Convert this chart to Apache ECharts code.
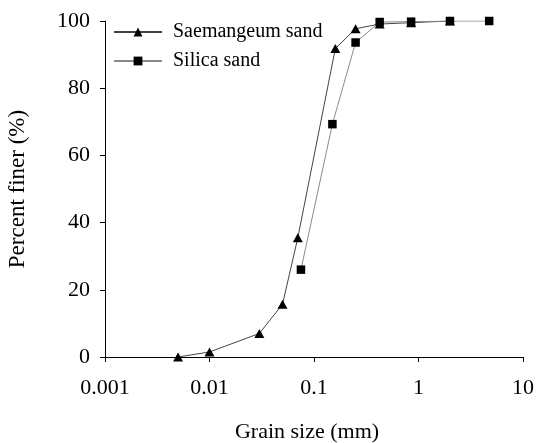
<!DOCTYPE html>
<html>
<head>
<meta charset="utf-8">
<script src="https://cdn.jsdelivr.net/npm/echarts@6/dist/echarts.min.js"></script>
<style>
  html, body { margin: 0; padding: 0; background: #fff; }
  #chart { width: 536px; height: 443px; }
</style>
</head>
<body>
<div id="chart"></div>
<script>
// Grain size distribution curves (grain size in mm, percent finer in %)
const saemangeumSize = [0.005, 0.01, 0.03, 0.05, 0.07, 0.16, 0.25, 0.425, 0.85, 2];
const saemangeumFiner = [0, 1.5, 7, 15.7, 35.5, 91.8, 97.7, 99.1, 99.5, 100];
const silicaSize = [0.075, 0.15, 0.25, 0.425, 0.85, 2, 4.75];
const silicaFiner = [26, 69.3, 93.6, 99.7, 99.8, 100, 100];
const xTicks = [0.001, 0.01, 0.1, 1, 10];
const yTicks = [0, 20, 40, 60, 80, 100];

const pairs = (xs, ys) => xs.map((x, i) => [x, ys[i]]);
const font = 'Liberation Serif, Times New Roman, serif';

const chart = echarts.init(document.getElementById('chart'), null, { renderer: 'canvas' });
chart.setOption({
  animation: false,
  backgroundColor: '#fff',
  textStyle: { fontFamily: font, color: '#000' },
  grid: { left: 105, right: 13, top: 21, bottom: 86, containLabel: false, outerBoundsMode: 'none' },
  legend: {
    left: 108, top: 17, orient: 'vertical',
    itemWidth: 48, itemHeight: 11, itemGap: 9,
    textStyle: { fontFamily: font, fontSize: 20, color: '#000', padding: [0, 0, 0, 6] },
    data: ['Saemangeum sand', 'Silica sand']
  },
  xAxis: {
    type: 'log', logBase: 10,
    min: xTicks[0], max: xTicks[xTicks.length - 1],
    name: 'Grain size (mm)', nameLocation: 'middle', nameGap: 64,
    nameTextStyle: { fontFamily: font, fontSize: 22, color: '#000', padding: [0, 14, 0, 0] },
    axisLine: { lineStyle: { color: '#000', width: 1 } },
    axisTick: { inside: false, length: 5, lineStyle: { color: '#000' } },
    minorTick: { show: false },
    splitLine: { show: false },
    axisLabel: {
      fontFamily: font, fontSize: 22, color: '#000', margin: 20,
      formatter: v => {
        const t = xTicks.find(k => Math.abs(Math.log10(k) - Math.log10(v)) < 1e-6);
        return t === undefined ? '' : String(t);
      }
    }
  },
  yAxis: {
    type: 'value', min: 0, max: 100, interval: 20,
    name: 'Percent finer (%)', nameLocation: 'middle', nameGap: 76,
    nameTextStyle: { fontFamily: font, fontSize: 23, color: '#000' },
    axisLine: { show: true, lineStyle: { color: '#000', width: 1 } },
    axisTick: { show: true, inside: false, length: 5, lineStyle: { color: '#000' } },
    splitLine: { show: false },
    axisLabel: {
      fontFamily: font, fontSize: 22, color: '#000', margin: 15,
      formatter: v => (yTicks.includes(v) ? String(v) : '')
    }
  },
  series: [
    {
      name: 'Saemangeum sand', type: 'line',
      data: pairs(saemangeumSize, saemangeumFiner),
      symbol: 'triangle', symbolSize: [10, 9],
      itemStyle: { color: '#000' },
      lineStyle: { color: '#444', width: 1 },
      z: 2
    },
    {
      name: 'Silica sand', type: 'line',
      data: pairs(silicaSize, silicaFiner),
      symbol: 'rect', symbolSize: 8.5,
      itemStyle: { color: '#000' },
      lineStyle: { color: '#8a8a8a', width: 1 },
      z: 3
    }
  ]
});
</script>
</body>
</html>
